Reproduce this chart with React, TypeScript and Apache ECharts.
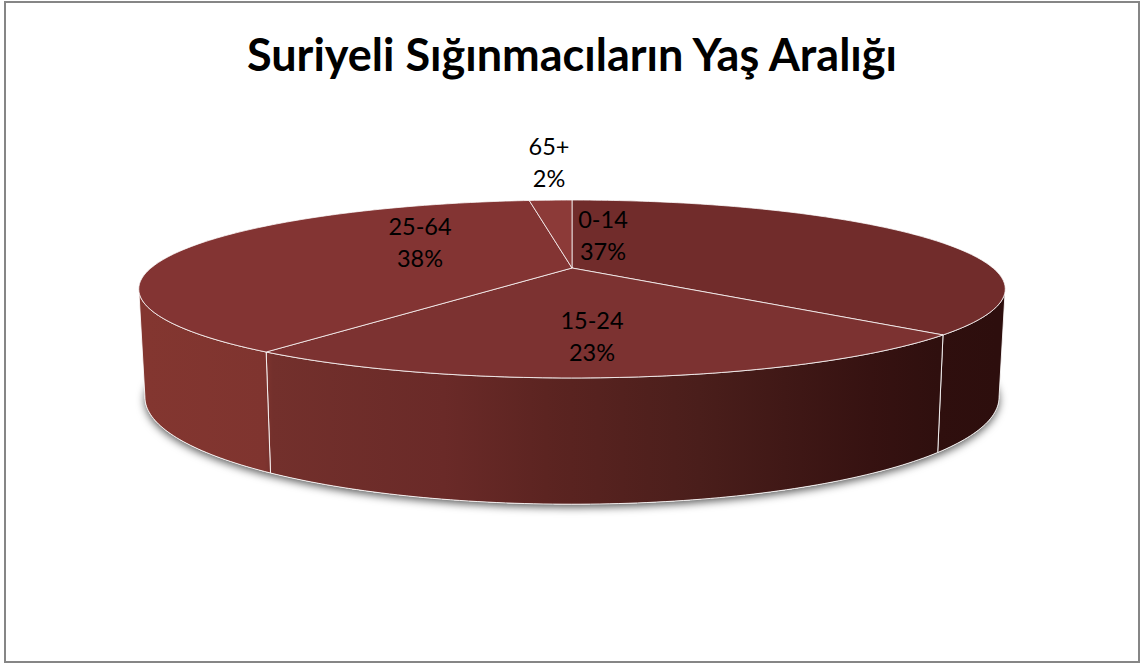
import React, { useEffect, useRef } from "react";
import * as echarts from "echarts";

const chartTitle = "Suriyeli Sığınmacıların Yaş Aralığı";
const ageGroups = ["0-14", "15-24", "25-64", "65+"];
const shareValues = [36.7, 23.3, 38, 2];

const topColors = ["#712c2b", "#7c3231", "#833433", "#8c3a38"];
const labelCentres = [
  [603, 235],
  [592, 336],
  [420, 242],
  [549, 162],
];

// perspective disc: k is the foreshortening, the two planes are the lid and the floor of the pie
const CX = 572;
const K = 0.236;
const LID = { a: 421, b: 84, y: 268 };
const FLOOR = { a: 415, b: 101, y: 372 };
const RAD = Math.PI / 180;
const project = (plane: typeof LID, deg: number) => {
  const u = Math.sin(deg * RAD);
  const v = -Math.cos(deg * RAD);
  const d = 1 - K * v;
  return [CX + (plane.a * u) / d, plane.y + (plane.b * v) / d];
};
const arc = (plane: typeof LID, from: number, to: number) => {
  const pts: number[][] = [];
  const n = Math.max(2, Math.ceil(Math.abs(to - from)));
  for (let i = 0; i <= n; i++) pts.push(project(plane, from + ((to - from) * i) / n));
  return pts;
};
const WALL_FROM = Math.acos(-K) / RAD;
const WALL_TO = 360 - WALL_FROM;

const wallFill = () =>
  new echarts.graphic.LinearGradient(
    145,
    0,
    998,
    0,
    [
      { offset: 0, color: "#833630" },
      { offset: 0.14, color: "#7f342f" },
      { offset: 0.15, color: "#73302c" },
      { offset: 0.35, color: "#6a2a28" },
      { offset: 0.47, color: "#5c2421" },
      { offset: 0.65, color: "#4a1e1b" },
      { offset: 0.85, color: "#361211" },
      { offset: 0.93, color: "#2f0f0e" },
      { offset: 1, color: "#2d0e0d" },
    ],
    true
  );

const renderSlice = (params: any) => {
  const i = params.dataIndex;
  const total = shareValues.reduce((s, v) => s + v, 0);
  const start = (shareValues.slice(0, i).reduce((s, v) => s + v, 0) / total) * 360;
  const end = start + (shareValues[i] / total) * 360;
  const children: any[] = [];

  if (i === 0) {
    children.push({
      type: "polygon",
      shape: { points: arc(FLOOR, 0, 360) },
      style: {
        fill: "#ffffff",
        shadowColor: "rgba(0,0,0,0.65)",
        shadowBlur: 9,
        shadowOffsetY: 3,
      },
    });
  }

  const a = Math.max(start, WALL_FROM);
  const b = Math.min(end, WALL_TO);
  if (b > a) {
    children.push({
      type: "polygon",
      shape: { points: [...arc(LID, a, b), ...arc(FLOOR, b, a)] },
      style: { fill: wallFill(), stroke: "rgba(255,255,255,0.85)", lineWidth: 1 },
    });
  }

  children.push({
    type: "polygon",
    shape: { points: [[CX, LID.y], ...arc(LID, start, end)] },
    style: { fill: topColors[i], stroke: "rgba(255,255,255,0.75)", lineWidth: 1 },
  });

  children.push({
    type: "text",
    x: labelCentres[i][0],
    y: labelCentres[i][1],
    z2: 10,
    style: {
      text: `${ageGroups[i]}\n${Math.round((shareValues[i] / total) * 100)}%`,
      font: '23.5px Lato, "Open Sans", sans-serif',
      lineHeight: 32,
      fill: "#000000",
      align: "center",
      verticalAlign: "middle",
    },
  });
  return { type: "group", children };
};

export default function App() {
  const ref = useRef<HTMLDivElement>(null);
  useEffect(() => {
    document.body.style.margin = "0";
    const chart = echarts.init(ref.current!, undefined, { renderer: "svg" });
    chart.setOption({
      animation: false,
      backgroundColor: "#ffffff",
      title: {
        text: chartTitle,
        left: 567,
        top: 26,
        textAlign: "center",
        textStyle: { fontFamily: "Lato, sans-serif", fontWeight: "bold", fontSize: 45, color: "#000000" },
      },
      graphic: [
        {
          type: "rect",
          shape: { x: 5, y: 2, width: 1134, height: 660 },
          style: { fill: "transparent", stroke: "#868686", lineWidth: 2 },
          silent: true,
        },
      ],
      series: [
        {
          type: "custom",
          coordinateSystem: "none",
          renderItem: renderSlice,
          data: ageGroups.map((name, i) => ({ name, value: shareValues[i] })),
        },
      ],
    });
    return () => chart.dispose();
  }, []);
  return <div ref={ref} style={{ width: 1143, height: 664, overflow: "hidden" }} />;
}
